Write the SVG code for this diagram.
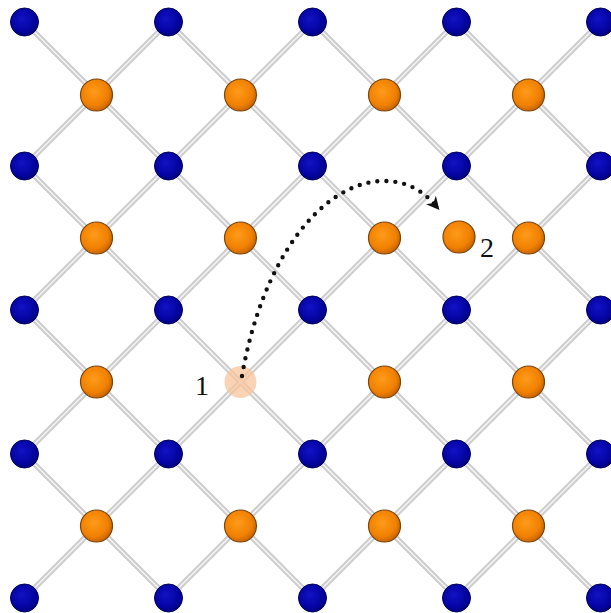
<svg xmlns="http://www.w3.org/2000/svg" width="611" height="613" viewBox="0 0 611 613">
<style>
.bo{stroke:#cdcdcd;stroke-width:5.5;fill:none}
.bi{stroke:#f3f3f3;stroke-width:1.6;fill:none}
.b{fill:url(#gb);stroke:#00005e;stroke-width:1}
.o{fill:url(#go);stroke:#7a4410;stroke-width:1.2}
.lbl{font-family:"Liberation Serif","Times New Roman",serif;font-size:28px;fill:#111}
</style>
<defs>
<radialGradient id="gb" cx="0.42" cy="0.4" r="0.62">
<stop offset="0" stop-color="#1212c4"/>
<stop offset="0.7" stop-color="#0404a2"/>
<stop offset="1" stop-color="#010178"/>
</radialGradient>
<radialGradient id="go" cx="0.42" cy="0.4" r="0.62">
<stop offset="0" stop-color="#ff9a1a"/>
<stop offset="0.7" stop-color="#f08000"/>
<stop offset="1" stop-color="#c46200"/>
</radialGradient>
<marker id="ah" viewBox="0 0 10 10" refX="6" refY="5" markerWidth="3" markerHeight="3" orient="auto" markerUnits="strokeWidth">
<path d="M0,0 L10,5 L0,10 L3,5 Z" fill="#111"/>
</marker>
</defs>
<rect width="611" height="613" fill="#ffffff"/>
<g id="bonds">
<path class="bo" d="M24.5,454L168.5,598M24.5,310L312.5,598M24.5,166L456.5,598M24.5,22L600.5,598M168.5,22L600.5,454M312.5,22L600.5,310M456.5,22L600.5,166M24.5,166L168.5,22M24.5,310L312.5,22M24.5,454L456.5,22M24.5,598L600.5,22M168.5,598L600.5,166M312.5,598L600.5,310M456.5,598L600.5,454"/>
<path class="bi" d="M24.5,454L168.5,598M24.5,310L312.5,598M24.5,166L456.5,598M24.5,22L600.5,598M168.5,22L600.5,454M312.5,22L600.5,310M456.5,22L600.5,166M24.5,166L168.5,22M24.5,310L312.5,22M24.5,454L456.5,22M24.5,598L600.5,22M168.5,598L600.5,166M312.5,598L600.5,310M456.5,598L600.5,454"/>
</g>
<g id="blue-atoms">
<circle class="b" cx="24.5" cy="22" r="14"/><circle class="b" cx="168.5" cy="22" r="14"/><circle class="b" cx="312.5" cy="22" r="14"/><circle class="b" cx="456.5" cy="22" r="14"/><circle class="b" cx="600.5" cy="22" r="14"/>
<circle class="b" cx="24.5" cy="166" r="14"/><circle class="b" cx="168.5" cy="166" r="14"/><circle class="b" cx="312.5" cy="166" r="14"/><circle class="b" cx="456.5" cy="166" r="14"/><circle class="b" cx="600.5" cy="166" r="14"/>
<circle class="b" cx="24.5" cy="310" r="14"/><circle class="b" cx="168.5" cy="310" r="14"/><circle class="b" cx="312.5" cy="310" r="14"/><circle class="b" cx="456.5" cy="310" r="14"/><circle class="b" cx="600.5" cy="310" r="14"/>
<circle class="b" cx="24.5" cy="454" r="14"/><circle class="b" cx="168.5" cy="454" r="14"/><circle class="b" cx="312.5" cy="454" r="14"/><circle class="b" cx="456.5" cy="454" r="14"/><circle class="b" cx="600.5" cy="454" r="14"/>
<circle class="b" cx="24.5" cy="598" r="14"/><circle class="b" cx="168.5" cy="598" r="14"/><circle class="b" cx="312.5" cy="598" r="14"/><circle class="b" cx="456.5" cy="598" r="14"/><circle class="b" cx="600.5" cy="598" r="14"/>
</g>
<g id="orange-atoms">
<circle class="o" cx="96.5" cy="95" r="16"/><circle class="o" cx="240.5" cy="95" r="16"/><circle class="o" cx="384.5" cy="95" r="16"/><circle class="o" cx="528.5" cy="95" r="16"/>
<circle class="o" cx="96.5" cy="238" r="16"/><circle class="o" cx="240.5" cy="238" r="16"/><circle class="o" cx="384.5" cy="238" r="16"/><circle class="o" cx="528.5" cy="238" r="16"/>
<circle class="o" cx="384.5" cy="382" r="16"/><circle class="o" cx="528.5" cy="382" r="16"/>
<circle class="o" cx="96.5" cy="382" r="16"/>
<circle class="o" cx="96.5" cy="526" r="16"/><circle class="o" cx="240.5" cy="526" r="16"/><circle class="o" cx="384.5" cy="526" r="16"/><circle class="o" cx="528.5" cy="526" r="16"/>
</g>
<g id="vacancy-1">
<circle cx="240.5" cy="382" r="16" fill="#f7c49a" fill-opacity="0.75"/>
<text class="lbl" x="195" y="395">1</text>
</g>
<g id="interstitial-2">
<circle class="o" cx="459" cy="237" r="16"/>
<text class="lbl" x="480" y="257">2</text>
</g>
<g id="connectors">
<path d="M242,376 C262,260 320,185 380,181 C408,180 424,192 436,206" fill="none" stroke="#111" stroke-width="4.4" stroke-linecap="round" stroke-dasharray="0 9" marker-end="url(#ah)"/>
</g>
</svg>
